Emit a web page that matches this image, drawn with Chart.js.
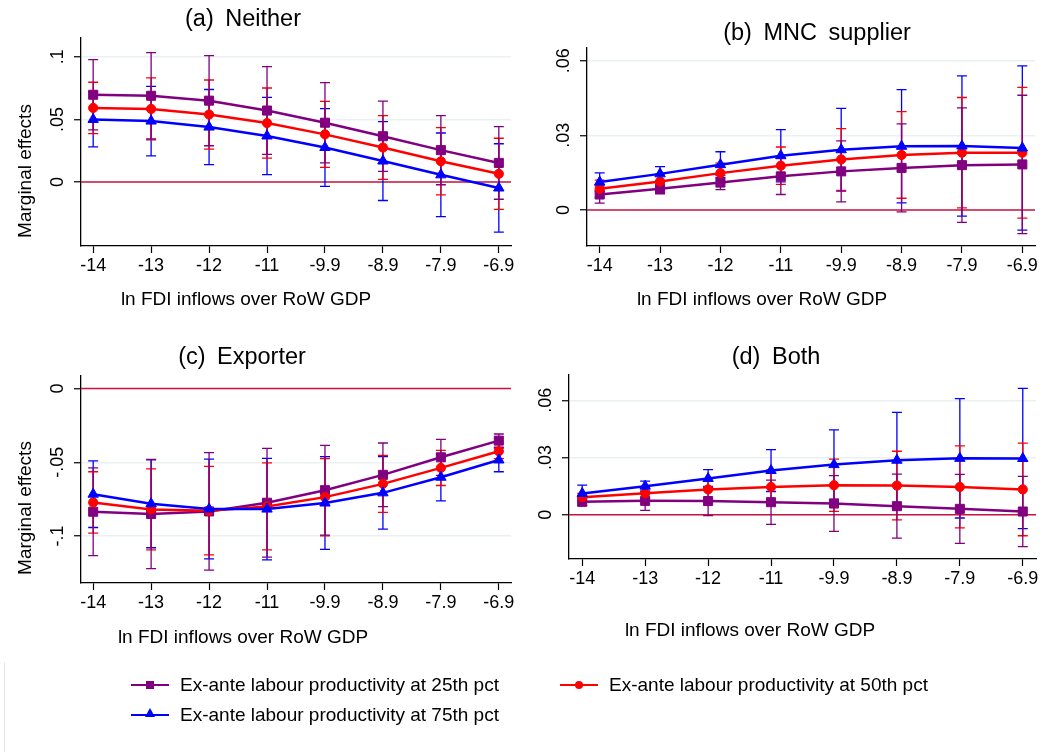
<!DOCTYPE html>
<html>
<head>
<meta charset="utf-8">
<script src="https://cdn.jsdelivr.net/npm/chart.js@4.4.1/dist/chart.umd.min.js"></script>
<style>
  body { margin: 0; background: #fff; width: 1045px; height: 752px; position: relative; overflow: hidden;
         font-family: "Liberation Sans", Arial, sans-serif; color: #000; }
  .panel { position: absolute; }
  .txt { position: absolute; white-space: nowrap; line-height: 1; transform: translate(-50%, -50%); }
  .ptitle { font-size: 23.5px; word-spacing: 5px; }
  .axtitle { font-size: 19px; }
  .ytitle { font-size: 19px; transform: translate(-50%, -50%) rotate(-90deg); }
  .leg { position: absolute; height: 20px; font-size: 19px; line-height: 20px; }
  .leg .ln { position: absolute; left: 0; top: 9px; width: 38px; height: 2px; }
  .leg .mk { position: absolute; }
  .leg .lbl { position: absolute; left: 49px; top: 0; white-space: nowrap; }
</style>
</head>
<body>
<div style="position:absolute;left:4px;top:662px;width:1px;height:90px;background:#e8e8e8"></div>

<div class="panel" style="left:0;top:0;width:520px;height:320px"><canvas id="cA"></canvas></div>
<div class="panel" style="left:520px;top:0;width:525px;height:320px"><canvas id="cB"></canvas></div>
<div class="panel" style="left:0;top:330px;width:520px;height:320px"><canvas id="cC"></canvas></div>
<div class="panel" style="left:520px;top:330px;width:525px;height:320px"><canvas id="cD"></canvas></div>

<div class="txt ptitle" style="left:243px;top:19px">(a) Neither</div>
<div class="txt ptitle" style="left:817px;top:33px">(b) MNC supplier</div>
<div class="txt ptitle" style="left:242px;top:357px">(c) Exporter</div>
<div class="txt ptitle" style="left:776px;top:357px">(d) Both</div>

<div class="txt axtitle" style="left:246px;top:298px">ln FDI inflows over RoW GDP</div>
<div class="txt axtitle" style="left:762px;top:298px">ln FDI inflows over RoW GDP</div>
<div class="txt axtitle" style="left:243px;top:636px">ln FDI inflows over RoW GDP</div>
<div class="txt axtitle" style="left:750px;top:629px">ln FDI inflows over RoW GDP</div>

<div class="txt ytitle" style="left:24px;top:171px">Marginal effects</div>
<div class="txt ytitle" style="left:24px;top:508px">Marginal effects</div>

<div id="legend"></div>

<script>
// x categories (ln FDI inflows over RoW GDP)
const xLabels = ['-14', '-13', '-12', '-11', '-9.9', '-8.9', '-7.9', '-6.9'];

const seriesNames = [
  'Ex-ante labour productivity at 25th pct',
  'Ex-ante labour productivity at 50th pct',
  'Ex-ante labour productivity at 75th pct'
];

// (a) Neither -- point estimates and CI half-widths
const neitherP25 = [0.0697, 0.0689, 0.0650, 0.0571, 0.0474, 0.0366, 0.0255, 0.0153];
const neitherP25Ci = [0.0280, 0.0345, 0.0360, 0.0350, 0.0320, 0.0280, 0.0276, 0.0290];
const neitherP50 = [0.0592, 0.0584, 0.0539, 0.0471, 0.0381, 0.0276, 0.0166, 0.0066];
const neitherP50Ci = [0.0205, 0.0247, 0.0276, 0.0280, 0.0263, 0.0255, 0.0268, 0.0284];
const neitherP75 = [0.0500, 0.0487, 0.0439, 0.0368, 0.0276, 0.0168, 0.0058, -0.0047];
const neitherP75Ci = [0.0219, 0.0277, 0.0300, 0.0308, 0.0310, 0.0315, 0.0334, 0.0353];

// (b) MNC supplier
const supplierP25 = [0.0062, 0.0085, 0.0110, 0.0135, 0.0155, 0.0169, 0.0180, 0.0183];
const supplierP25Ci = [0.0035, 0.0020, 0.0028, 0.0073, 0.0123, 0.0177, 0.0230, 0.0278];
const supplierP50 = [0.0085, 0.0114, 0.0148, 0.0178, 0.0203, 0.0221, 0.0230, 0.0230];
const supplierP50Ci = [0.0035, 0.0030, 0.0040, 0.0075, 0.0124, 0.0174, 0.0222, 0.0263];
const supplierP75 = [0.0112, 0.0145, 0.0182, 0.0218, 0.0242, 0.0256, 0.0257, 0.0249];
const supplierP75Ci = [0.0037, 0.0029, 0.0052, 0.0105, 0.0166, 0.0228, 0.0282, 0.0330];

// (c) Exporter
const exporterP25 = [-0.0835, -0.0850, -0.0833, -0.0774, -0.0689, -0.0585, -0.0466, -0.0353];
const exporterP25Ci = [0.0297, 0.0370, 0.0398, 0.0369, 0.0304, 0.0216, 0.0122, 0.0045];
const exporterP50 = [-0.0772, -0.0819, -0.0828, -0.0799, -0.0736, -0.0646, -0.0538, -0.0425];
const exporterP50Ci = [0.0208, 0.0275, 0.0300, 0.0295, 0.0262, 0.0193, 0.0119, 0.0050];
const exporterP75 = [-0.0716, -0.0781, -0.0817, -0.0817, -0.0776, -0.0707, -0.0601, -0.0484];
const exporterP75Ci = [0.0226, 0.0298, 0.0338, 0.0344, 0.0314, 0.0246, 0.0160, 0.0080];

// (d) Both
const bothP25 = [0.0068, 0.0073, 0.0072, 0.0066, 0.0059, 0.0045, 0.0031, 0.0017];
const bothP25Ci = [0.0020, 0.0050, 0.0077, 0.0116, 0.0146, 0.0168, 0.0181, 0.0184];
const bothP50 = [0.0092, 0.0113, 0.0133, 0.0146, 0.0155, 0.0153, 0.0146, 0.0133];
const bothP50Ci = [0.0020, 0.0030, 0.0055, 0.0089, 0.0137, 0.0180, 0.0215, 0.0243];
const bothP75 = [0.0112, 0.0150, 0.0190, 0.0232, 0.0263, 0.0286, 0.0296, 0.0295];
const bothP75Ci = [0.0043, 0.0026, 0.0047, 0.0110, 0.0182, 0.0251, 0.0313, 0.0368];

// y-axis ticks per panel
const yTicksA = [0, 0.05, 0.1];
const yTickLabelsA = ['0', '.05', '.1'];
const yTicksB = [0, 0.03, 0.06];
const yTickLabelsB = ['0', '.03', '.06'];
const yTicksC = [-0.1, -0.05, 0];
const yTickLabelsC = ['-.1', '-.05', '0'];
const yTicksD = [0, 0.03, 0.06];
const yTickLabelsD = ['0', '.03', '.06'];

const colors = ['#800080', '#ff0000', '#0000ff'];
const markers = ['rect', 'circle', 'triangle'];
const markerSize = [6.4, 4.6, 6.0];
const FONT = '"Liberation Sans", Arial, sans-serif';

// draws the CI bars and the zero reference line using the chart scales
const errorBarPlugin = {
  id: 'errorBars',
  beforeDatasetsDraw(chart) {
    const { ctx, chartArea, scales: { x, y } } = chart;
    ctx.save();
    // zero line
    const y0 = y.getPixelForValue(0);
    ctx.strokeStyle = '#c8143f';
    ctx.lineWidth = 1.5;
    ctx.beginPath();
    ctx.moveTo(chartArea.left, y0);
    ctx.lineTo(chartArea.right, y0);
    ctx.stroke();
    // bars: blue, red, then purple on top
    for (let d = chart.data.datasets.length - 1; d >= 0; d--) {
      const ds = chart.data.datasets[d];
      ctx.strokeStyle = ds.borderColor;
      ctx.lineWidth = 1.3;
      ds.data.forEach((p, i) => {
        const px = x.getPixelForValue(p.x);
        const hi = y.getPixelForValue(p.y + ds.ci[i]);
        const lo = y.getPixelForValue(p.y - ds.ci[i]);
        ctx.beginPath();
        ctx.moveTo(px, hi); ctx.lineTo(px, lo);
        ctx.moveTo(px - 5, hi); ctx.lineTo(px + 5, hi);
        ctx.moveTo(px - 5, lo); ctx.lineTo(px + 5, lo);
        ctx.stroke();
      });
    }
    ctx.restore();
  },
  afterDraw(chart) {
    // rotated y tick labels (Stata style)
    const { ctx, chartArea, scales: { y } } = chart;
    const opts = chart.options.plugins.errorBars;
    ctx.save();
    ctx.fillStyle = '#000';
    ctx.font = '18px ' + FONT;
    ctx.textAlign = 'center';
    ctx.textBaseline = 'middle';
    opts.ticks.forEach((v, i) => {
      ctx.save();
      ctx.translate(chartArea.left - 23, y.getPixelForValue(v));
      ctx.rotate(-Math.PI / 2);
      ctx.fillText(opts.labels[i], 0, 0);
      ctx.restore();
    });
    ctx.restore();
  }
};

function makePanel(id, series, cis, yTicks, yTickLabels, yMin, yMax, box) {
  const datasets = series.map((vals, s) => ({
    label: seriesNames[s],
    data: vals.map((v, i) => ({ x: i, y: v })),
    ci: cis[s],
    borderColor: colors[s],
    backgroundColor: colors[s],
    borderWidth: 2.5,
    pointStyle: markers[s],
    pointRadius: markerSize[s],
    pointBorderWidth: 1,
    tension: 0,
    order: 2 - s
  }));

  new Chart(document.getElementById(id), {
    type: 'line',
    data: { datasets },
    options: {
      responsive: true,
      maintainAspectRatio: false,
      animation: false,
      layout: { padding: { left: 0, top: box.top, right: box.right, bottom: 0 } },
      plugins: {
        legend: { display: false },
        tooltip: { enabled: false },
        errorBars: { ticks: yTicks, labels: yTickLabels }
      },
      scales: {
        x: {
          type: 'linear',
          min: -0.21,
          max: 7.21,
          afterBuildTicks: (sc) => { sc.ticks = xLabels.map((_, i) => ({ value: i })); },
          afterFit: (sc) => { sc.height = box.bottom; },
          ticks: {
            autoSkip: false, maxRotation: 0, padding: 2, color: '#000',
            font: { size: 18, family: FONT },
            callback: (v) => xLabels[v]
          },
          grid: { drawOnChartArea: false, tickLength: 7, tickColor: '#000', tickWidth: 1.2 },
          border: { color: '#000', width: 1.3 }
        },
        y: {
          type: 'linear',
          min: yMin,
          max: yMax,
          afterBuildTicks: (sc) => { sc.ticks = yTicks.map(v => ({ value: v })); },
          afterFit: (sc) => { sc.width = box.left; },
          ticks: { display: false },
          grid: { color: '#e9f1f3', lineWidth: 1.5, tickLength: 7, tickColor: '#000', tickWidth: 1.2 },
          border: { color: '#000', width: 1.3 }
        }
      }
    },
    plugins: [errorBarPlugin]
  });
}

makePanel('cA', [neitherP25, neitherP50, neitherP75], [neitherP25Ci, neitherP50Ci, neitherP75Ci],
  yTicksA, yTickLabelsA, -0.051, 0.115, { left: 81, top: 38, right: 9, bottom: 74 });
makePanel('cB', [supplierP25, supplierP50, supplierP75], [supplierP25Ci, supplierP50Ci, supplierP75Ci],
  yTicksB, yTickLabelsB, -0.0145, 0.0651, { left: 67, top: 48, right: 10, bottom: 74 });
makePanel('cC', [exporterP25, exporterP50, exporterP75], [exporterP25Ci, exporterP50Ci, exporterP75Ci],
  yTicksC, yTickLabelsC, -0.1318, 0.0085, { left: 81, top: 46, right: 9, bottom: 67 });
makePanel('cD', [bothP25, bothP50, bothP75], [bothP25Ci, bothP50Ci, bothP75Ci],
  yTicksD, yTickLabelsD, -0.0232, 0.0733, { left: 49, top: 45, right: 9, bottom: 91 });

// legend (Stata style, two columns)
const legendPos = [{ left: 131, top: 675 }, { left: 560, top: 675 }, { left: 131, top: 705 }];
const legendEl = document.getElementById('legend');
seriesNames.forEach((name, s) => {
  const item = document.createElement('div');
  item.className = 'leg';
  item.style.left = legendPos[s].left + 'px';
  item.style.top = legendPos[s].top + 'px';
  let mk;
  if (markers[s] === 'rect') {
    mk = `<div class="mk" style="left:15px;top:6px;width:8px;height:8px;background:${colors[s]}"></div>`;
  } else if (markers[s] === 'circle') {
    mk = `<div class="mk" style="left:15px;top:6px;width:8px;height:8px;border-radius:50%;background:${colors[s]}"></div>`;
  } else {
    mk = `<div class="mk" style="left:14px;top:3px;width:0;height:0;border-left:5px solid transparent;border-right:5px solid transparent;border-bottom:9px solid ${colors[s]}"></div>`;
  }
  item.innerHTML = `<div class="ln" style="background:${colors[s]}"></div>${mk}<div class="lbl">${name}</div>`;
  legendEl.appendChild(item);
});
</script>
</body>
</html>
